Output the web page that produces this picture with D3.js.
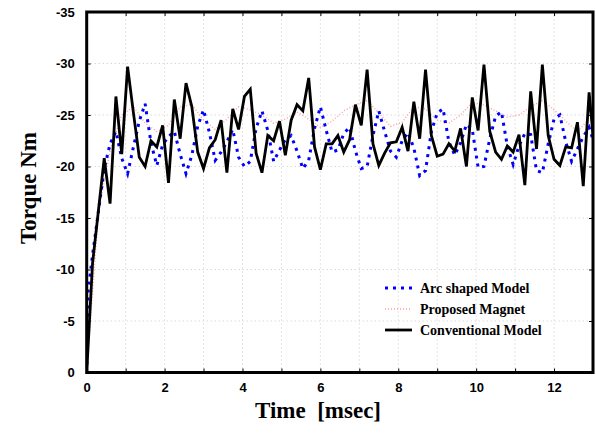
<!DOCTYPE html>
<html>
<head>
<meta charset="utf-8">
<script src="https://cdn.jsdelivr.net/npm/d3@7"></script>
<style>
  body { margin: 0; background: #fff; }
  .tick text { font-family: Arial, "Liberation Sans", sans-serif; font-weight: bold; font-size: 13px; }
</style>
</head>
<body>
<div id="chart"></div>
<script>
// Conventional model, sampled every 0.15 msec
var convTime = d3.range(0, 88).map(k => +(k * 0.15).toFixed(2));
var convTorque = [0, -10.6, -15.7, -20.8, -16.4, -26.8, -21.2, -29.7, -25.2, -20.9,
    -20.0, -22.5, -21.9, -24.0, -18.4, -26.5, -22.7, -28.1, -25.8, -21.4,
    -19.8, -21.8, -22.6, -24.5, -19.4, -25.6, -23.6, -26.8, -27.5, -21.3,
    -19.4, -23.0, -22.5, -24.4, -21.1, -24.5, -26.0, -25.4, -28.6, -21.9,
    -19.7, -22.2, -22.2, -23.0, -21.4, -22.6, -26.0, -24.0, -29.4, -22.2,
    -20.1, -21.3, -22.3, -22.4, -23.8, -21.5, -26.3, -22.7, -29.4, -23.0,
    -21.0, -21.2, -22.2, -21.5, -23.7, -20.0, -26.7, -23.5, -29.9, -23.4,
    -21.4, -20.7, -22.0, -21.4, -23.1, -18.2, -27.3, -21.7, -29.9, -23.0,
    -20.7, -20.1, -21.9, -21.8, -24.3, -18.1, -27.2, -21.0];

// Arc shaped model
var arcTime = [0, 0.04].concat(d3.range(1, 88).map(k => +(k * 0.15).toFixed(2)));
var arcTorque = [0, -8.0, -11.4, -15.6, -19.8, -22.2, -23.4, -20.8, -19.3, -21.9, -24.4,
    -26.1, -22.3, -20.1, -22.1, -22.9, -23.4, -21.2, -19.3, -21.1, -23.9,
    -25.5, -23.3, -20.6, -21.4, -22.4, -23.6, -20.9, -20.0, -20.5, -23.7,
    -25.4, -23.5, -20.5, -21.6, -22.6, -23.0, -21.5, -19.8, -20.6, -23.7,
    -25.8, -23.5, -21.4, -21.6, -23.2, -23.8, -21.5, -19.8, -20.0, -23.0,
    -25.4, -23.4, -21.5, -20.9, -22.5, -23.3, -21.8, -19.1, -19.6, -23.4,
    -25.2, -25.6, -22.4, -21.1, -22.3, -24.1, -23.6, -19.9, -20.0, -22.7,
    -24.9, -25.3, -22.0, -20.2, -22.0, -23.2, -23.1, -19.6, -19.4, -22.2,
    -24.6, -25.0, -22.4, -20.5, -21.7, -22.9, -23.8, -22.0];

// Proposed magnet, sampled every 0.3 msec
var magTime = d3.range(0, 45).map(k => +(k * 0.3).toFixed(2));
var magTorque = [0, -15.5, -21.5, -25.0, -25.8, -24.2, -23.4, -24.0, -25.8, -26.0,
    -24.5, -23.6, -24.6, -25.8, -25.5, -25.0, -24.2, -24.6, -25.3, -24.6,
    -23.8, -24.4, -25.4, -26.0, -26.4, -25.2, -23.9, -24.3, -25.8, -25.6,
    -24.5, -24.2, -25.0, -26.2, -26.0, -25.4, -24.8, -25.0, -25.8, -26.4,
    -25.5, -24.4, -23.4, -24.6, -25.2];

var xTicks = d3.range(0, 13.5, 1);
var yTicks = [0, -5, -10, -15, -20, -25, -30, -35];
var legendNames = ["Arc shaped Model", "Proposed Magnet", "Conventional Model"];

const width = 596, height = 433;
const margin = { top: 12, right: 3, bottom: 60.5, left: 86.7 };

var svg = d3.select("#chart")
    .append("svg")
    .attr("width", width)
    .attr("height", height);

var x = d3.scaleLinear().domain([0, 13]).range([margin.left, width - margin.right]);
var y = d3.scaleLinear().domain([0, -35]).range([height - margin.bottom, margin.top]);

// Clip lines to the plot box
svg.append("clipPath").attr("id", "plotClip")
    .append("rect")
    .attr("x", x(0)).attr("y", y(-35))
    .attr("width", x(13) - x(0)).attr("height", y(0) - y(-35));

// Dotted grid
svg.append("g")
    .selectAll("line.vg")
    .data(xTicks.slice(1, -1))
    .join("line")
    .attr("x1", d => x(d)).attr("x2", d => x(d))
    .attr("y1", y(0)).attr("y2", y(-35))
    .style("stroke", "#c8c8c8").style("stroke-width", 1).style("stroke-dasharray", "1,3");

svg.append("g")
    .selectAll("line.hg")
    .data(yTicks.slice(1, -1))
    .join("line")
    .attr("x1", x(0)).attr("x2", x(13))
    .attr("y1", d => y(d)).attr("y2", d => y(d))
    .style("stroke", "#c8c8c8").style("stroke-width", 1).style("stroke-dasharray", "1,3");

// Axes (ticks inside)
var xAxis = svg.append("g")
    .attr("transform", `translate(0,${y(0)})`)
    .call(d3.axisBottom(x).tickValues(xTicks).tickSizeInner(-4).tickSizeOuter(0).tickPadding(10)
        .tickFormat(d => d % 2 === 0 ? String(d) : ""));
xAxis.select(".domain").remove();
xAxis.selectAll(".tick line").style("stroke", "#000");
xAxis.selectAll(".tick text").attr("fill", "#000");

svg.append("g")
    .attr("transform", `translate(0,${y(-35)})`)
    .call(d3.axisTop(x).tickValues(xTicks).tickSizeInner(-4).tickSizeOuter(0).tickFormat(""))
    .select(".domain").remove();

var yAxis = svg.append("g")
    .attr("transform", `translate(${x(0)},0)`)
    .call(d3.axisLeft(y).tickValues(yTicks).tickSizeInner(-4).tickSizeOuter(0).tickPadding(12)
        .tickFormat(d => String(d)));
yAxis.select(".domain").remove();
yAxis.selectAll(".tick text").attr("fill", "#000");

svg.append("g")
    .attr("transform", `translate(${x(13)},0)`)
    .call(d3.axisRight(y).tickValues(yTicks).tickSizeInner(-4).tickSizeOuter(0).tickFormat(""))
    .select(".domain").remove();

// Series
var line = d3.line().x(d => x(d[0])).y(d => y(d[1]));
var plot = svg.append("g").attr("clip-path", "url(#plotClip)");

plot.append("path")
    .datum(d3.zip(magTime, magTorque))
    .attr("d", line)
    .style("fill", "none").style("stroke", "#ff9c9c")
    .style("stroke-width", 1.4).style("stroke-dasharray", "1,2");

plot.append("path")
    .datum(d3.zip(arcTime, arcTorque))
    .attr("d", line)
    .style("fill", "none").style("stroke", "#0000ff")
    .style("stroke-width", 3).style("stroke-dasharray", "3,5");

plot.append("path")
    .datum(d3.zip(convTime, convTorque))
    .attr("d", line)
    .style("fill", "none").style("stroke", "#000")
    .style("stroke-width", 2.8).style("stroke-linejoin", "miter");

// Frame
svg.append("rect")
    .attr("x", x(0)).attr("y", y(-35))
    .attr("width", x(13) - x(0)).attr("height", y(0) - y(-35))
    .style("fill", "none").style("stroke", "#000").style("stroke-width", 3);

// Axis titles
svg.append("text")
    .attr("x", 318).attr("y", 418)
    .attr("text-anchor", "middle")
    .style("font-family", "'Liberation Serif', 'Times New Roman', serif")
    .style("font-weight", "bold").style("font-size", "23px")
    .style("white-space", "pre")
    .text("Time  [msec]");

svg.append("text")
    .attr("transform", "translate(36,188) rotate(-90)")
    .attr("text-anchor", "middle")
    .style("font-family", "'Liberation Serif', 'Times New Roman', serif")
    .style("font-weight", "bold").style("font-size", "23px")
    .text("Torque Nm");

// Legend
var legendStyles = [
    { stroke: "#0000ff", width: 3, dash: "3,5" },
    { stroke: "#ff9c9c", width: 1.4, dash: "1,2" },
    { stroke: "#000", width: 2.8, dash: null }
];
var legend = svg.append("g");
legendNames.forEach((name, i) => {
    var ly = 288 + i * 21;
    legend.append("line")
        .attr("x1", 385).attr("x2", 412)
        .attr("y1", ly).attr("y2", ly)
        .style("stroke", legendStyles[i].stroke)
        .style("stroke-width", legendStyles[i].width)
        .style("stroke-dasharray", legendStyles[i].dash);
    legend.append("text")
        .attr("x", 420).attr("y", ly + 5)
        .style("font-family", "'Liberation Serif', 'Times New Roman', serif")
        .style("font-weight", "bold").style("font-size", "14px")
        .text(name);
});
</script>
</body>
</html>
